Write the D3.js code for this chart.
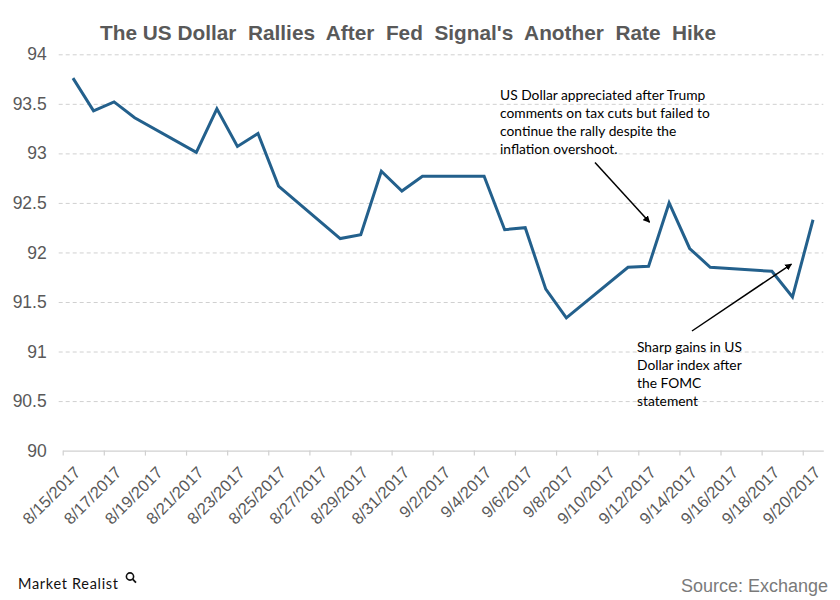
<!DOCTYPE html>
<html>
<head>
<meta charset="utf-8">
<script src="https://cdn.jsdelivr.net/npm/d3@7"></script>
<style>
  html, body { margin: 0; padding: 0; background: #fff; }
  svg { display: block; }
</style>
</head>
<body>
<svg id="chart" width="840" height="600"></svg>
<script>
// ---- Data ----
const dates = ["8/15/2017","8/16/2017","8/17/2017","8/18/2017","8/21/2017","8/22/2017","8/23/2017","8/24/2017","8/25/2017","8/28/2017","8/29/2017","8/30/2017","8/31/2017","9/1/2017","9/4/2017","9/5/2017","9/6/2017","9/7/2017","9/8/2017","9/11/2017","9/12/2017","9/13/2017","9/14/2017","9/15/2017","9/18/2017","9/19/2017","9/20/2017"];
const values = [93.76,93.43,93.52,93.36,93.01,93.45,93.07,93.20,92.67,92.14,92.18,92.82,92.62,92.77,92.77,92.23,92.25,91.63,91.34,91.85,91.86,92.50,92.04,91.85,91.81,91.55,92.33];
const xTickLabels = ["8/15/2017","8/17/2017","8/19/2017","8/21/2017","8/23/2017","8/25/2017","8/27/2017","8/29/2017","8/31/2017","9/2/2017","9/4/2017","9/6/2017","9/8/2017","9/10/2017","9/12/2017","9/14/2017","9/16/2017","9/18/2017","9/20/2017"];
const yTicks = [90, 90.5, 91, 91.5, 92, 92.5, 93, 93.5, 94];
const title = "The US Dollar  Rallies  After  Fed  Signal's  Another  Rate  Hike";
const note1 = ["US Dollar appreciated after Trump","comments on tax cuts but failed to","continue the rally despite the","inflation overshoot."];
const note2 = ["Sharp gains in US","Dollar index after","the FOMC","statement"];

// ---- Setup ----
const parse = d3.utcParse("%m/%d/%Y");
const fmt = d3.utcFormat("%-m/%-d/%Y");
const DAY = 864e5;
const svg = d3.select("#chart");
const mLeft = 62.7, mRight = 823.3, mTop = 54.3, mBottom = 450.6;

const startDate = parse(dates[0]);
const endDate = new Date(+parse(dates[dates.length - 1]) + DAY);
const x = d3.scaleUtc().domain([startDate, endDate]).range([mLeft, mRight]);
const y = d3.scaleLinear().domain([90, 94]).range([mBottom, mTop]);
const dayW = x(new Date(+startDate + DAY)) - x(startDate);

const data = dates.map((d, i) => ({ date: new Date(+parse(d) + DAY / 2), value: values[i] }));

// Title
svg.append("text")
  .attr("x", 408).attr("y", 40)
  .attr("text-anchor", "middle")
  .attr("font-family", "Liberation Sans, Arial, sans-serif")
  .attr("font-weight", "bold")
  .attr("font-size", 20.8)
  .attr("fill", "#595959")
  .style("white-space", "pre")
  .text(title);

// Gridlines + y labels
const yAxis = d3.axisLeft(y).tickValues(yTicks).tickSize(-(mRight - mLeft + 4)).tickPadding(12)
  .tickFormat(d => d3.format("")(d));
const gy = svg.append("g").attr("transform", `translate(${mLeft - 4},0)`).call(yAxis);
gy.select(".domain").remove();
gy.selectAll(".tick line")
  .attr("stroke", "#d0d0d0").attr("stroke-dasharray", "4,3").attr("stroke-width", 1);
gy.selectAll(".tick").filter(d => d === 90).select("line").remove();
gy.selectAll(".tick text")
  .attr("font-family", "Liberation Sans, Arial, sans-serif")
  .attr("font-size", 17.5).attr("fill", "#595959")
  .attr("x", -12);

// X axis
const tickDates = xTickLabels.map(parse);
const xAxis = d3.axisBottom(x).tickValues(tickDates).tickSize(5).tickSizeOuter(0).tickFormat(fmt);
const gx = svg.append("g").attr("transform", `translate(0,${mBottom})`).call(xAxis);
gx.select(".domain").attr("stroke", "#d0d0d0").attr("stroke-width", 1.2);
gx.selectAll(".tick line").attr("stroke", "#d0d0d0").attr("stroke-width", 1.2).attr("y1", 0).attr("y2", 5);
gx.selectAll(".tick text")
  .attr("font-family", "Liberation Sans, Arial, sans-serif")
  .attr("font-size", 16.5).attr("fill", "#595959")
  .attr("text-anchor", "end")
  .attr("dy", null).attr("y", null)
  .attr("transform", `translate(${dayW / 2 + 8},23) rotate(-45)`);

// Line
const line = d3.line().x(d => x(d.date)).y(d => y(d.value));
svg.append("path").datum(data)
  .attr("d", line)
  .attr("fill", "none")
  .attr("stroke", "#23608c")
  .attr("stroke-width", 3)
  .attr("stroke-linejoin", "miter");

// Arrow marker
svg.append("defs").append("marker")
  .attr("id", "arrow").attr("viewBox", "0 0 10 10")
  .attr("refX", 9).attr("refY", 5)
  .attr("markerWidth", 7).attr("markerHeight", 7)
  .attr("markerUnits", "userSpaceOnUse")
  .attr("orient", "auto")
  .append("path").attr("d", "M0,0 L10,5 L0,10 z").attr("fill", "#000");

function note(lines, x0, y0, lh) {
  const t = svg.append("text")
    .attr("font-family", "Lato, 'Open Sans', sans-serif")
    .attr("font-size", 13.8).attr("fill", "#000");
  lines.forEach((s, i) => t.append("tspan").attr("x", x0).attr("y", y0 + i * lh).text(s));
}
note(note1, 500, 99.5, 18);
note(note2, 637, 352, 18);

// Arrows (annotation pointers, anchored to data points)
const p1 = data[dates.indexOf("9/12/2017")];
const p2 = data[dates.indexOf("9/19/2017")];
svg.append("line")
  .attr("x1", 595).attr("y1", 162.5)
  .attr("x2", x(p1.date) + 1).attr("y2", y(p1.value) - 44)
  .attr("stroke", "#000").attr("stroke-width", 1.5).attr("marker-end", "url(#arrow)");
svg.append("line")
  .attr("x1", 692).attr("y1", 331)
  .attr("x2", x(p2.date) - 1).attr("y2", y(p2.value) - 33)
  .attr("stroke", "#000").attr("stroke-width", 1.5).attr("marker-end", "url(#arrow)");

// Footer
const brand = svg.append("g");
brand.append("text")
  .attr("x", 18).attr("y", 589)
  .attr("font-family", "Lato, 'Noto Sans', sans-serif")
  .attr("font-size", 14.5).attr("fill", "#111")
  .attr("textLength", 100)
  .text("Market Realist");
brand.append("circle").attr("cx", 130).attr("cy", 576.5).attr("r", 3.6)
  .attr("fill", "none").attr("stroke", "#111").attr("stroke-width", 1.6);
brand.append("line").attr("x1", 132.6).attr("y1", 579.2).attr("x2", 136).attr("y2", 582.6)
  .attr("stroke", "#111").attr("stroke-width", 1.8);

svg.append("text")
  .attr("x", 828).attr("y", 592)
  .attr("text-anchor", "end")
  .attr("font-family", "Liberation Sans, Arial, sans-serif")
  .attr("font-size", 18).attr("fill", "#7a7a7a")
  .text("Source: Exchange");
</script>
</body>
</html>
